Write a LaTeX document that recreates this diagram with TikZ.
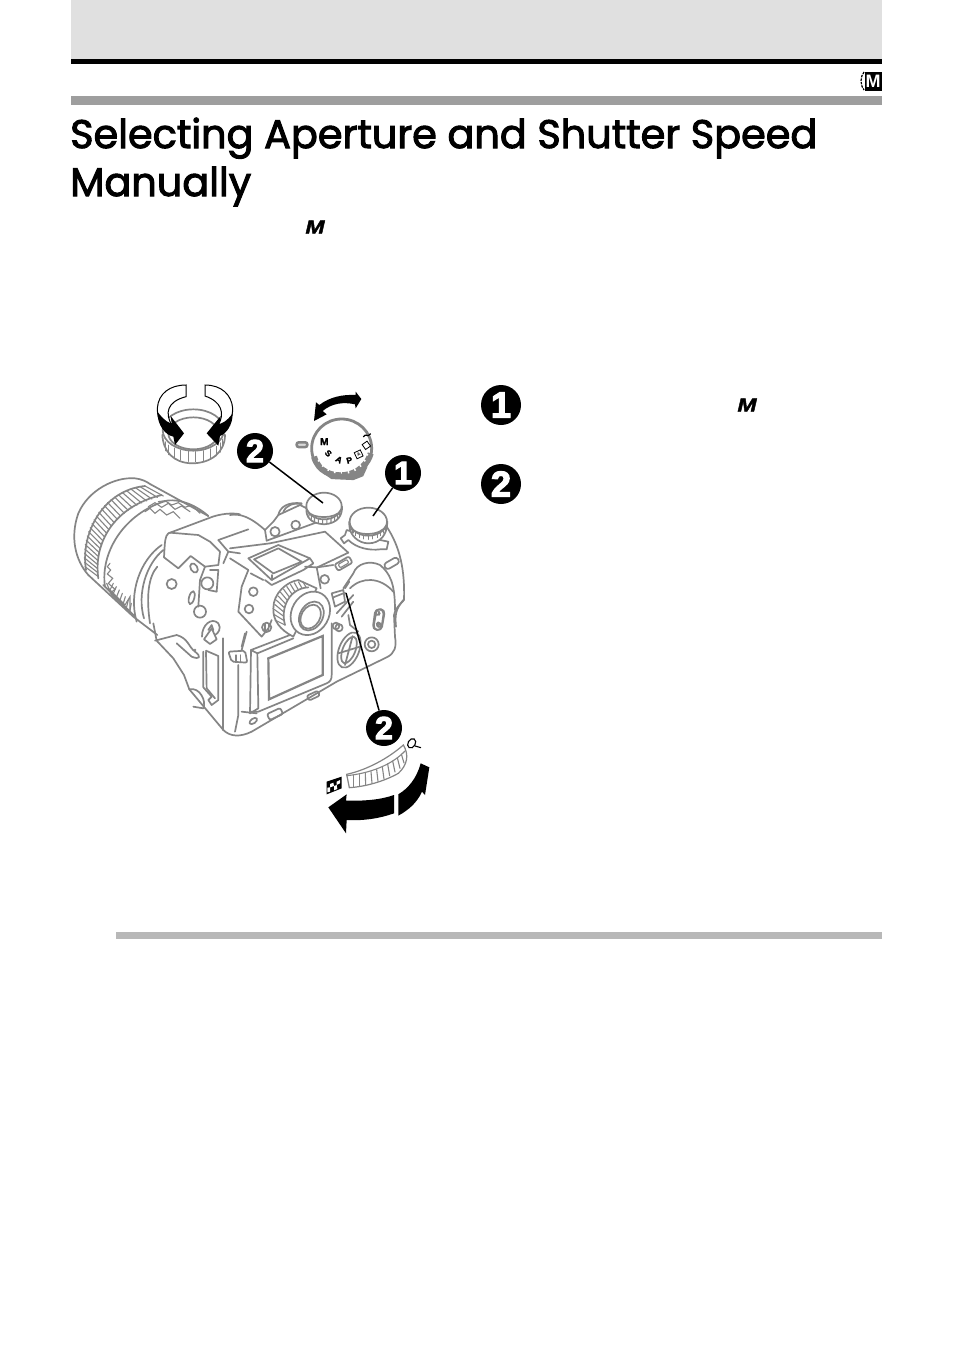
\documentclass[tikz,border=0pt]{standalone}
\usepackage{fontspec}
\setmainfont{Poppins}
\newfontfamily\titlefont[RawFeature={embolden=2.5}]{Poppins}
\newfontfamily\numfont[RawFeature={embolden=3.5}]{Liberation Sans}
\newfontfamily\letfont{Liberation Sans}
\newfontfamily\markfont[RawFeature={embolden=2}]{Liberation Sans}
\definecolor{camgray}{HTML}{858585}
\tikzset{
 x=1pt,y=-1pt,
 z2/.style={shift={(60,600)},scale=1/3},
 z5/.style={shift={(70,470)},scale=1/3},
 z6/.style={shift={(230,480)},scale=1/3},
 z7/.style={shift={(170,600)},scale=1/3},
 z8/.style={shift={(290,385)},scale=1/3},
 z9/.style={shift={(150,380)},scale=1/3},
 z10/.style={shift={(320,735)},scale=1/3},
 cam/.style={draw=camgray,line width=1.7pt,line join=round,line cap=round},
 camthin/.style={draw=camgray,line width=1.1pt,line cap=round},
 leader/.style={draw=black,line width=1.5pt},
 bignum/.style={circle,fill=black,text=white,inner sep=0pt,minimum size=40pt,font=\numfont\bfseries\fontsize{36}{36}\selectfont},
 smallnum/.style={circle,fill=black,text=white,inner sep=0pt,minimum size=36pt,font=\numfont\bfseries\fontsize{32}{32}\selectfont},
 manualM/.style={inner sep=0pt,xscale=1.2,font=\markfont\bfseries\itshape\fontsize{19}{19}\selectfont},
 dialtxt/.style={inner sep=0pt,font=\markfont\bfseries\fontsize{8.5}{8.5}\selectfont},
 blackfill/.style={fill=black,draw=none},
}
\newcommand{\hatchbetween}[3]{%
 \foreach \t in {0,#3,...,1}{%
  \path #1 coordinate[pos=\t] (hp);
  \path #2 coordinate[pos=\t] (hq);
  \draw[camthin] (hp) -- (hq);
 }}
\begin{document}
\begin{tikzpicture}
\useasboundingbox (0,0) rectangle (954,1352);
\fill[white] (0,0) rectangle (954,1352);
% header
\fill[fill=black!12] (71,0) rectangle (882,59);
\fill[black] (71,59) rectangle (882,64);
\fill[black!38] (71,96) rectangle (882,105);
\fill[black!28] (116,932) rectangle (882,939);
% header icon
\node[fill=black,text=white,minimum width=17pt,minimum height=19pt,inner sep=0pt,font=\letfont\bfseries\fontsize{18}{18}\selectfont] (icon) at (873,81) {M};
\draw[black,line width=1.2pt,dash pattern=on 2.5pt off 1pt] (864,72) .. controls (860,77) and (860,85) .. (864,90);
% title
\node[anchor=base west,inner sep=0pt,font=\titlefont\fontsize{39.8}{39.8}\selectfont] (title1) at (70,148) {Selecting Aperture and Shutter Speed};
\node[anchor=base west,inner sep=0pt,font=\titlefont\fontsize{39.8}{39.8}\selectfont] (title2) at (70,196) {Manually};
% M marks
\node[manualM] (m1) at (315,227) {M};
\node[manualM] (m2) at (747,405) {M};
% step numbers
\node[bignum] (s1) at (501,405) {1};
\node[bignum] (s2) at (501,484) {2};

% ------- lens
\begin{scope}[z5]
\draw[cam] (55,315) .. controls (15,270) and (0,200) .. (25,130) .. controls (55,60) and (135,20) .. (195,25) .. controls (215,27) and (230,35) .. (240,42) -- (415,138);
\draw[cam] (48,300) .. controls (30,190) and (100,60) .. (225,48);
\draw[cam] (85,325) .. controls (70,220) and (130,110) .. (275,75);
\hatchbetween{(45,290) .. controls (30,180) and (100,60) .. (225,48)}{(85,320) .. controls (70,220) and (130,110) .. (280,78)}{0.04}
\draw[cam] (105,350) .. controls (90,250) and (160,130) .. (290,92) .. controls (340,85) and (390,115) .. (415,138);
\draw[cam] (55,315) -- (190,440) -- (262,495);
\draw[cam] (100,345) -- (195,440);
% stepped grip pattern
\draw[camthin] (225,125) -- (240,115) -- (255,130) -- (270,118) -- (290,135) -- (310,125) -- (330,145);
\draw[camthin] (235,110) -- (255,98) -- (275,112) -- (295,100) -- (315,118) -- (335,108) -- (360,125);
\draw[camthin] (265,95) -- (285,92) -- (305,105) -- (325,98) -- (345,112) -- (365,105) -- (390,130);
\draw[camthin] (120,280) -- (112,290) -- (122,300) -- (112,312) -- (128,325) -- (115,340) -- (135,358) -- (122,368) -- (150,395);
\draw[camthin] (110,340) -- (125,375) -- (190,440);
\draw[camthin] (115,355) -- (165,405) -- (180,380) -- (180,430);
\foreach \i in {0,...,6}{\draw[camthin] (120+10*\i,360+10*\i) -- (130+9*\i,340+10*\i);}
% rings
\draw[cam] (275,225) .. controls (210,270) and (175,370) .. (200,455);
\draw[cam] (280,240) .. controls (230,280) and (200,370) .. (222,445);
\draw[cam] (262,290) .. controls (235,320) and (228,380) .. (240,460);
% eyecup hood
\draw[cam] (295,190) -- (415,145) .. controls (450,130) and (490,128) .. (510,133);
\draw[cam] (295,190) .. controls (285,200) and (285,210) .. (282,262) -- (325,295) -- (362,258) -- (405,290) -- (445,285) -- (450,245) -- (420,215) -- (385,195) -- (300,188);
\draw[cam] (445,210) -- (535,178);
\draw[cam] (445,210) -- (475,245) -- (460,280);
\draw[cam] (475,245) -- (510,250);
\draw[cam] (405,290) -- (390,330) -- (385,410);
% small body details
\draw[cam] (305,342) circle[radius=15];
\draw[cam,rotate around={30:(372,294)}] (372,294) ellipse[x radius=10,y radius=15];
\draw[cam,rotate around={-15:(365,383)}] (365,383) ellipse[x radius=8,y radius=20];
\draw[cam] (412,340) circle[radius=18];
\draw[cam] (390,425) circle[radius=18];
\draw[cam] (420,300) -- (445,300) -- (440,365) -- (415,360);
\end{scope}

% ------- body lower outline
\begin{scope}[z2]
\draw[cam] (280,70) -- (290,122) -- (340,175) -- (372,225) -- (388,268) -- (490,390) .. controls (510,410) and (540,412) .. (575,395) -- (830,245) -- (980,172) .. controls (1005,160) and (1010,140) .. (1005,110) -- (1002,45) .. controls (1005,25) and (1020,15) .. (1030,0);
\draw[cam] (388,268) .. controls (420,260) and (440,305) .. (430,325);
\draw[cam] (400,320) -- (430,325);
\draw[cam] (285,122) -- (350,105) .. controls (385,115) and (385,140) .. (405,155) .. controls (425,170) and (420,180) .. (395,170) -- (350,130);
\fill[camgray] (405,150) circle[radius=4];
\end{scope}

\begin{scope}[z7]
% strap lug
\draw[cam,fill=white] (102,118) -- (125,85) -- (140,118) -- (120,132) -- cycle;
\draw[cam] (96,110) .. controls (95,75) and (125,50) .. (145,70) .. controls (155,85) and (145,100) .. (135,105);
\draw[cam] (115,90) -- (125,75) -- (130,90);
% door
\draw[cam] (100,155) -- (100,262) -- (125,290) -- (115,300) -- (125,315) -- (145,300) -- (145,168) -- (108,152);
\draw[cam] (108,155) -- (110,265) -- (135,295);
% corner lines
\draw[cam] (160,115) -- (160,390);
\draw[cam] (205,195) -- (205,345) -- (195,395);
\draw[cam] (230,95) -- (215,150);
% slot
\draw[cam,fill=white,rounded corners=2pt] (175,155) -- (225,152) -- (232,188) -- (185,185) -- cycle;
\draw[camthin] (198,165) -- (198,185) (212,165) -- (212,187);
% LCD surround
\draw[cam] (243,150) -- (360,105);
\draw[cam] (243,150) -- (262,160) -- (265,325) -- (240,340) -- (243,150);
\draw[cam] (262,160) -- (370,115);
\draw[cam] (485,70) -- (485,225) .. controls (485,240) and (480,245) .. (470,250) -- (265,335) -- (240,335);
\draw[cam] (215,335) -- (260,340);
\draw[draw=camgray,line width=2.2pt] (295,175) -- (458,108) -- (458,225) -- (297,298) -- cycle;
% buttons
\draw[cam,rounded corners=2pt,rotate around={25:(315,342)}] (293,332) rectangle (337,352);
\draw[cam,rounded corners=2pt,rotate around={25:(430,287)}] (412,279) rectangle (448,295);
\draw[cam,rotate around={35:(250,363)}] (250,363) ellipse[x radius=13,y radius=7];
\draw[cam] (507,83) circle[radius=11];
% cross wheel
\draw[cam,rotate around={-22:(537,150)}] (537,150) ellipse[x radius=30,y radius=56];
\draw[cam,rotate around={-22:(537,150)}] (537,150) ellipse[x radius=19,y radius=42];
\draw[cam] (548,108) -- (525,195) (505,160) -- (570,140);
\draw[cam] (605,133) circle[radius=21];
\draw[cam] (605,133) circle[radius=11];
% side switch
\draw[cam,rounded corners=4pt,rotate around={-8:(625,58)}] (612,28) rectangle (638,90);
\draw[cam] (625,72) circle[radius=5];
\draw[cam] (620,45) -- (630,40);
% small details
\draw[cam,fill=white] (290,82) circle[radius=14];
\draw[camthin] (285,70) -- (285,95) (296,70) -- (296,95);
\end{scope}

% ------- central top
\begin{scope}[z6]
% top plate
\draw[cam] (0,105) .. controls (30,100) and (60,110) .. (105,150);
\draw[cam] (105,150) -- (130,125) -- (145,105) -- (210,75) -- (230,85);
\draw[cam] (110,182) -- (285,118);
\draw[cam] (105,150) -- (110,182);
\draw[cam] (145,105) .. controls (150,80) and (175,65) .. (215,70);
\draw[cam] (160,95) .. controls (170,75) and (190,68) .. (215,72);
\draw[cam] (135,155) circle[radius=14];
\draw[cam] (197,135) circle[radius=13];
\draw[cam] (120,190) -- (285,155) -- (355,218) -- (262,262);
\draw[cam] (0,205) -- (120,190);
\draw[cam] (225,260) -- (260,262) -- (272,325);
% hot shoe
\draw[cam,fill=white] (55,235) -- (145,195) -- (240,235) -- (125,300) -- cycle;
\draw[cam] (72,238) -- (145,205) -- (215,245) -- (130,280) -- cycle;
\draw[cam] (125,300) -- (125,285);
\draw[cam] (240,235) -- (250,250) -- (220,270) -- (125,315) -- (105,300);
% left panel
\draw[cam] (55,270) -- (35,320) -- (25,395) -- (95,470) -- (115,445) -- (125,420);
\draw[cam] (62,280) -- (100,300);
\draw[cam] (70,335) circle[radius=13];
\draw[cam] (57,387) circle[radius=13];
\draw[cam] (0,235) -- (55,270);
% right hand body
\draw[cam] (470,140) .. controls (510,200) and (525,270) .. (522,360) .. controls (495,385) and (495,410) .. (498,440);
\draw[cam] (340,325) -- (370,280) .. controls (380,250) and (420,240) .. (450,255) .. controls (480,280) and (495,310) .. (495,390);
\draw[cam] (360,325) .. controls (395,290) and (450,290) .. (490,335);
\draw[cam] (262,262) -- (310,255);
\draw[cam,fill=white,rounded corners=2pt,rotate around={30:(340,250)}] (315,240) rectangle (365,262);
\draw[camthin,rounded corners=1pt,rotate around={30:(340,250)}] (325,245) rectangle (355,257);
\draw[cam,rounded corners=3pt,rotate around={30:(485,250)}] (462,240) rectangle (508,260);
\draw[cam] (284,298) circle[radius=13];
\draw[cam] (318,438) circle[radius=10];
\draw[cam] (305,340) -- (340,330) -- (345,365) -- (315,380) -- cycle;
\draw[cam] (310,352) -- (345,338);
\draw[cam] (345,325) -- (358,305);
\draw[cam] (320,400) -- (370,345);
\draw[cam] (335,410) -- (370,365);
\draw[cam] (355,405) -- (360,435) -- (385,455);
\draw[cam,rounded corners=4pt,rotate around={-10:(447,418)}] (435,387) rectangle (460,450);
\draw[cam] (447,405) -- (447,395);
\draw[cam] (447,435) circle[radius=6];
% eyepiece
\draw[cam,fill=white] (130,385) .. controls (130,340) and (170,305) .. (205,300) -- (260,325) -- (190,470) .. controls (150,450) and (128,420) .. (130,385);
\hatchbetween{(135,420) .. controls (120,350) and (170,300) .. (225,305)}{(165,435) .. controls (150,380) and (180,325) .. (235,322)}{0.08}
\draw[cam] (165,435) .. controls (150,380) and (180,325) .. (235,322);
\draw[cam,fill=white,rotate around={-30:(241,400)}] (241,400) ellipse[x radius=56,y radius=68];
\draw[cam,rotate around={-30:(244,408)}] (244,408) ellipse[x radius=34,y radius=46];
\draw[cam,rotate around={-30:(242,410)}] (242,410) ellipse[x radius=28,y radius=38];
\draw[cam] (280,470) -- (280,510);
\draw[cam] (45,460) -- (35,500);
% dial 2
\draw[cam,fill=white] (229,85) .. controls (228,110) and (240,130) .. (282,133) .. controls (325,130) and (337,105) .. (336,80) -- (229,80) -- cycle;
\foreach \a in {20,35,...,160}{\draw[camthin] ({282+50*cos(\a)},{92+40*sin(\a)}) -- ({282+49*cos(\a)},{92+40*sin(\a)-22*abs(sin(\a))});}
\draw[cam,fill=white] (282,78) ellipse[x radius=53,y radius=40];
\draw[cam] (232,92) .. controls (245,118) and (320,118) .. (333,90);
% dial 1 collar
\draw[cam,fill=white] (345,165) -- (332,175) -- (342,190) -- (355,180) .. controls (380,205) and (420,212) .. (450,208) -- (470,208) -- (475,185) -- (450,180) -- (350,150) -- cycle;
\draw[cam,fill=white] (358,135) .. controls (358,165) and (385,190) .. (415,190) .. controls (450,190) and (472,165) .. (472,125) -- (358,125) -- cycle;
\foreach \a in {15,30,...,165}{\draw[camthin] ({415+53*cos(\a)},{140+38*sin(\a)}) -- ({415+53*cos(\a)},{140+20*sin(\a)});}
\draw[cam,fill=white] (415,125) ellipse[x radius=56,y radius=42];
\draw[cam] (360,140) .. controls (375,170) and (455,170) .. (470,135);
\end{scope}

% ------- mode dial
\begin{scope}[z8]
\draw[draw=camgray,line width=2.5pt,rounded corners=2pt,fill=black!15] (20,172) rectangle (52,186);
\draw[draw=camgray,line width=2.8pt,fill=white] (155,190) ellipse[x radius=90,y radius=88];
\draw[draw=camgray,line width=6pt] (72,215) .. controls (85,260) and (125,275) .. (165,270) .. controls (205,265) and (235,235) .. (242,205);
\foreach \a in {15,30,...,165}{\draw[white,line width=1.5pt] ({155+72*cos(\a)},{190+62*sin(\a)}) -- ({155+82*cos(\a)},{190+78*sin(\a)});}
\draw[draw=camgray,line width=1.5pt,fill=camgray] (105,266) -- (195,270) -- (228,250) -- (218,272) -- (190,283) -- (125,280) -- cycle;
\draw[blackfill] (72,108) -- (78,52) -- (88,60) .. controls (120,35) and (160,28) .. (197,30) -- (197,20) -- (214,42) -- (197,70) -- (195,58) .. controls (160,50) and (125,55) .. (98,78) -- (110,88) -- cycle;
\node[dialtxt,font=\markfont\bfseries\fontsize{10}{10}\selectfont] (dm) at (103,170) {M};
\node[dialtxt,rotate=-45] (ds) at (115,205) {S};
\node[dialtxt,rotate=-30] (da) at (147,224) {A};
\node[dialtxt,rotate=15] (dp) at (178,226) {P};
\draw[black,line width=.8pt,rotate around={25:(206,208)}] (196,198) rectangle (216,218);
\node[dialtxt,font=\letfont\bfseries\fontsize{4.5}{4.5}\selectfont,rotate=25] (da2) at (206,208) {A};
\draw[black,line width=.8pt,rotate around={35:(229,181)}] (220,172) rectangle (238,190);
\draw[black,line width=1.2pt] (220,156) .. controls (228,142) and (232,160) .. (242,146);
\end{scope}

% ------- ring with arrows
\begin{scope}[z9]
\draw[cam,fill=white] (37,165) .. controls (40,215) and (70,248) .. (125,250) .. controls (185,250) and (225,215) .. (225,165) -- (125,120) -- cycle;
\foreach \a in {10,25,...,170}{\draw[camthin] ({130+90*cos(\a)},{195+50*sin(\a)}) -- ({130+90*cos(\a)},{170+45*sin(\a)});}
\draw[cam,fill=white] (130,150) ellipse[x radius=92,y radius=62];
\draw[cam,fill=white] (130,160) ellipse[x radius=75,y radius=48];
\draw[fill=white,line width=1pt,draw=black] (108,15) .. controls (60,15) and (25,40) .. (22,85) .. controls (22,110) and (30,130) .. (45,145) -- (65,135) .. controls (45,100) and (50,65) .. (108,50) -- cycle;
\draw[fill=white,line width=1pt,draw=black] (165,15) .. controls (215,15) and (245,45) .. (248,85) .. controls (248,110) and (240,130) .. (225,145) -- (205,135) .. controls (225,100) and (215,65) .. (165,48) -- cycle;
\draw[blackfill] (22,95) .. controls (45,125) and (60,130) .. (65,130) -- (62,108) -- (102,160) -- (75,195) -- (70,170) .. controls (45,165) and (22,135) .. (22,95);
\draw[blackfill] (248,100) .. controls (230,125) and (215,130) .. (208,132) -- (212,108) -- (170,160) -- (205,197) -- (210,168) .. controls (230,160) and (248,135) .. (248,100);
\end{scope}

% ------- bottom dial
\begin{scope}[z10]
\draw[camgray,line width=1.2pt,fill=white] (80,118) .. controls (140,105) and (205,70) .. (250,30) .. controls (268,60) and (262,90) .. (235,115) .. controls (190,140) and (135,155) .. (88,158) -- cycle;
\draw[camthin] (80,122) .. controls (150,115) and (215,90) .. (255,48);
\foreach \a/\b/\c/\d in {100/121/100/156,118/119/118/153,136/115/137/150,153/110/156/145,170/104/174/139,187/96/192/132,203/87/209/122,218/78/225/111,232/68/240/100,244/57/252/84}{\draw[camthin] (\a,\b) -- (\c,\d);}
% loupe
\draw[black,line width=1.1pt,rotate around={-30:(275,25)}] (275,25) ellipse[x radius=11,y radius=15];
\draw[black,line width=1.1pt] (285,33) -- (303,38);
% checker
\fill[black] (20,140) -- (65,125) -- (65,160) -- (20,178) -- cycle;
\fill[white] (30,147) -- (40,143) -- (42,153) -- (30,157) -- cycle;
\fill[white] (50,140) -- (60,135) -- (60,145) -- (50,150) -- cycle;
\fill[white] (42,153) -- (50,150) -- (52,162) -- (42,166) -- cycle;
\fill[white] (22,158) -- (30,157) -- (30,170) -- (22,172) -- cycle;
% arrows
\draw[blackfill] (25,217) -- (80,178) -- (78,197) .. controls (130,198) and (180,195) .. (222,180) -- (222,235) .. controls (180,250) and (130,258) .. (80,255) -- (78,295) -- cycle;
\draw[blackfill] (235,178) .. controls (265,160) and (290,130) .. (302,85) -- (328,97) -- (315,180) -- (306,170) .. controls (290,205) and (265,225) .. (235,242) -- cycle;
\end{scope}

% ------- callouts
\node[smallnum] (c2a) at (255,451) {2};
\node[smallnum] (c1) at (403,473) {1};
\node[smallnum] (c2b) at (384,728) {2};
\coordinate (t2a) at (323,503);
\coordinate (t1) at (373,516);
\coordinate (t2b) at (346,593);
\draw[leader] (c2a) -- (t2a);
\draw[leader] (c1) -- (t1);
\draw[leader] (c2b) -- (t2b);
\end{tikzpicture}
\end{document}
